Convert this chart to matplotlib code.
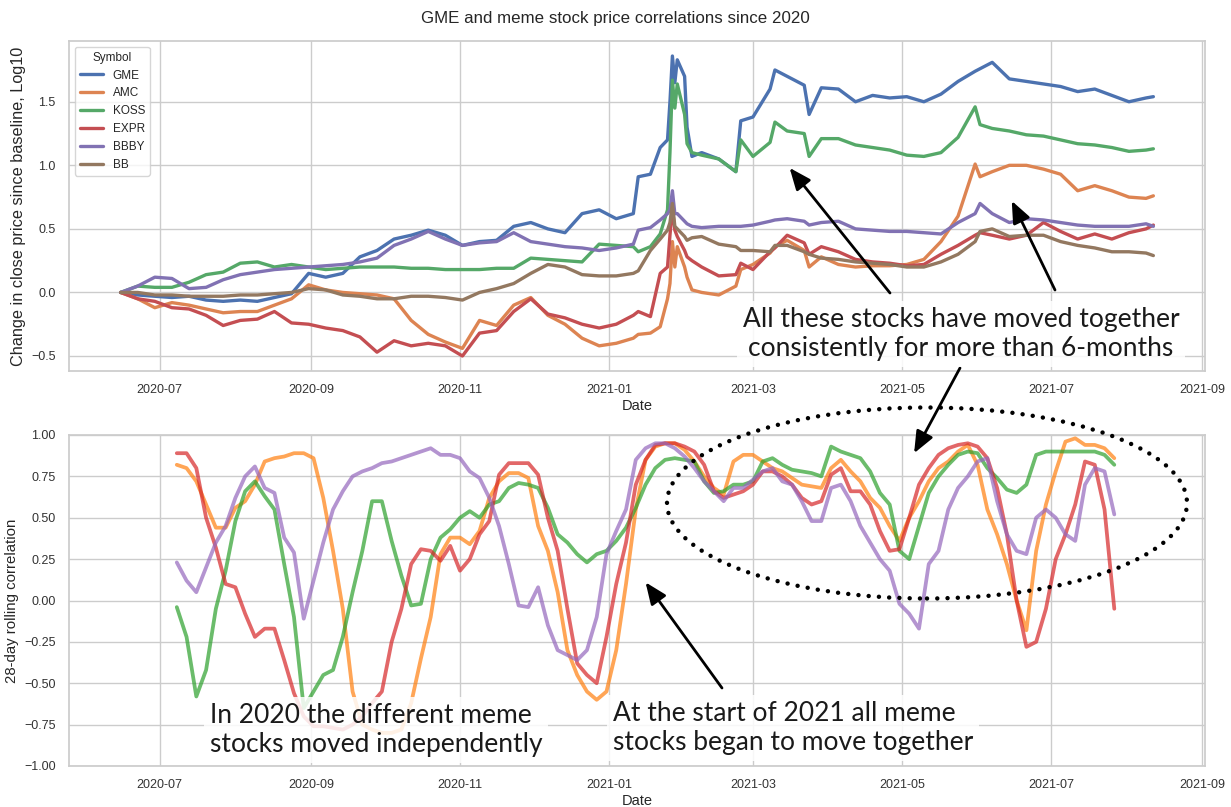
import numpy as np
import pandas as pd
import matplotlib
matplotlib.use("Agg")
import matplotlib.pyplot as plt
import matplotlib.dates as mdates
from matplotlib.ticker import MultipleLocator
from matplotlib.patches import Ellipse
import seaborn as sns

# ---- close price change since 2020-06-15 baseline (log10) ----
# weekly samples plus the days around the January squeeze
weekly = pd.date_range("2020-06-15", "2021-08-09", freq="7D")
extra_days = pd.to_datetime([
    "2021-01-13", "2021-01-22", "2021-01-26", "2021-01-27", "2021-01-28",
    "2021-01-29", "2021-02-02", "2021-02-04", "2021-02-24", "2021-03-10",
    "2021-03-24", "2021-06-02", "2021-08-12",
])
price_dates = weekly.union(extra_days)

symbols = ["GME", "AMC", "KOSS", "EXPR", "BBBY", "BB"]

gme = [0.00, -0.02, -0.03, -0.04, -0.03, -0.06, -0.07, -0.06, -0.07, -0.04,
       -0.01, 0.15, 0.12, 0.15, 0.28, 0.33, 0.42, 0.45, 0.49, 0.45,
       0.37, 0.40, 0.41, 0.52, 0.55, 0.50, 0.47, 0.62, 0.65, 0.58,
       0.62, 0.91, 0.93, 1.14, 1.20, 1.50, 1.86, 1.65, 1.83, 1.70,
       1.30, 1.07, 1.10, 1.05, 0.95, 1.35, 1.38, 1.60, 1.75, 1.70,
       1.63, 1.40, 1.61, 1.60, 1.50, 1.55, 1.53, 1.54, 1.50, 1.56,
       1.66, 1.74, 1.76, 1.81, 1.68, 1.66, 1.64, 1.62, 1.58, 1.60,
       1.55, 1.50, 1.53, 1.54]
amc = [0.00, -0.05, -0.12, -0.08, -0.10, -0.13, -0.16, -0.15, -0.15, -0.10,
       -0.05, 0.06, 0.02, 0.00, -0.01, -0.02, -0.05, -0.22, -0.33, -0.39,
       -0.44, -0.22, -0.26, -0.10, -0.04, -0.18, -0.25, -0.36, -0.42, -0.40,
       -0.36, -0.33, -0.32, -0.27, -0.05, 0.07, 0.40, 0.20, 0.36, 0.20,
       0.12, 0.02, 0.00, -0.02, 0.05, 0.18, 0.22, 0.31, 0.36, 0.41,
       0.33, 0.20, 0.28, 0.22, 0.20, 0.21, 0.21, 0.22, 0.26, 0.40,
       0.60, 1.01, 0.91, 0.95, 1.00, 1.00, 0.97, 0.93, 0.80, 0.84,
       0.80, 0.75, 0.74, 0.76]
koss = [0.00, 0.05, 0.04, 0.04, 0.08, 0.14, 0.16, 0.23, 0.24, 0.20,
        0.22, 0.20, 0.18, 0.19, 0.20, 0.20, 0.20, 0.19, 0.19, 0.18,
        0.18, 0.18, 0.19, 0.19, 0.27, 0.26, 0.25, 0.24, 0.38, 0.37,
        0.36, 0.32, 0.36, 0.46, 0.65, 1.10, 1.67, 1.45, 1.64, 1.40,
        1.17, 1.10, 1.08, 1.05, 0.95, 1.20, 1.07, 1.18, 1.34, 1.27,
        1.25, 1.07, 1.21, 1.21, 1.16, 1.14, 1.12, 1.08, 1.07, 1.10,
        1.22, 1.46, 1.32, 1.29, 1.27, 1.24, 1.23, 1.20, 1.17, 1.16,
        1.14, 1.11, 1.12, 1.13]
expr = [0.00, -0.05, -0.07, -0.12, -0.13, -0.18, -0.26, -0.22, -0.21, -0.15,
        -0.24, -0.25, -0.28, -0.30, -0.35, -0.47, -0.38, -0.42, -0.40, -0.42,
        -0.50, -0.32, -0.30, -0.15, -0.05, -0.17, -0.20, -0.25, -0.28, -0.25,
        -0.18, -0.15, -0.19, 0.15, 0.20, 0.45, 0.67, 0.49, 0.44, 0.33,
        0.28, 0.25, 0.20, 0.13, 0.14, 0.23, 0.18, 0.32, 0.35, 0.45,
        0.39, 0.30, 0.36, 0.32, 0.26, 0.24, 0.23, 0.21, 0.22, 0.30,
        0.37, 0.45, 0.47, 0.45, 0.42, 0.45, 0.55, 0.48, 0.42, 0.46,
        0.42, 0.47, 0.50, 0.53]
bbby = [0.00, 0.05, 0.12, 0.11, 0.03, 0.04, 0.10, 0.14, 0.16, 0.18,
        0.19, 0.20, 0.21, 0.22, 0.24, 0.27, 0.37, 0.42, 0.48, 0.42,
        0.37, 0.39, 0.40, 0.47, 0.40, 0.38, 0.36, 0.35, 0.33, 0.35,
        0.38, 0.49, 0.51, 0.57, 0.62, 0.65, 0.80, 0.62, 0.62, 0.56,
        0.54, 0.52, 0.51, 0.52, 0.52, 0.52, 0.53, 0.56, 0.57, 0.58,
        0.56, 0.53, 0.55, 0.56, 0.50, 0.49, 0.48, 0.48, 0.47, 0.46,
        0.55, 0.62, 0.70, 0.62, 0.55, 0.58, 0.57, 0.55, 0.53, 0.52,
        0.52, 0.52, 0.54, 0.52]
bb = [0.00, 0.00, -0.02, -0.02, -0.03, -0.03, -0.03, -0.02, -0.02, -0.01,
      0.00, 0.03, 0.02, -0.02, -0.03, -0.05, -0.05, -0.03, -0.03, -0.04,
      -0.06, 0.00, 0.03, 0.07, 0.15, 0.22, 0.20, 0.14, 0.13, 0.13,
      0.15, 0.17, 0.33, 0.42, 0.49, 0.55, 0.70, 0.52, 0.50, 0.44,
      0.41, 0.43, 0.44, 0.38, 0.36, 0.33, 0.33, 0.32, 0.37, 0.37,
      0.32, 0.30, 0.27, 0.26, 0.24, 0.23, 0.22, 0.20, 0.20, 0.24,
      0.30, 0.40, 0.48, 0.50, 0.44, 0.45, 0.45, 0.40, 0.37, 0.35,
      0.32, 0.32, 0.31, 0.29]

# ---- 28-day rolling correlation of each stock with GME ----
corr_dates = pd.date_range("2020-07-08", "2021-07-27", freq="4D")

amc_corr = [0.82, 0.80, 0.72, 0.58, 0.44, 0.44, 0.56, 0.60, 0.70, 0.84,
            0.86, 0.87, 0.89, 0.89, 0.86, 0.62, 0.30, -0.05, -0.55, -0.75,
            -0.78, -0.80, -0.80, -0.78, -0.62, -0.35, -0.10, 0.28, 0.38, 0.38,
            0.34, 0.42, 0.62, 0.72, 0.77, 0.77, 0.74, 0.45, 0.30, 0.05,
            -0.30, -0.45, -0.55, -0.60, -0.55, -0.30, 0.10, 0.55, 0.85, 0.93,
            0.95, 0.95, 0.91, 0.84, 0.75, 0.68, 0.64, 0.84, 0.88, 0.88,
            0.84, 0.80, 0.78, 0.74, 0.70, 0.69, 0.68, 0.80, 0.85, 0.78,
            0.72, 0.62, 0.56, 0.45, 0.36, 0.50, 0.60, 0.72, 0.80, 0.84,
            0.90, 0.94, 0.82, 0.55, 0.40, 0.22, 0.00, -0.18, 0.30, 0.58,
            0.78, 0.96, 0.98, 0.94, 0.94, 0.92, 0.86]
koss_corr = [-0.04, -0.22, -0.58, -0.42, -0.05, 0.18, 0.48, 0.66, 0.72, 0.63,
             0.55, 0.22, -0.10, -0.65, -0.55, -0.45, -0.42, -0.22, 0.05, 0.30,
             0.60, 0.60, 0.36, 0.15, -0.03, -0.02, 0.25, 0.38, 0.43, 0.50,
             0.54, 0.50, 0.58, 0.60, 0.68, 0.71, 0.70, 0.68, 0.56, 0.40,
             0.35, 0.28, 0.23, 0.28, 0.30, 0.36, 0.44, 0.56, 0.70, 0.80,
             0.85, 0.86, 0.85, 0.84, 0.72, 0.65, 0.66, 0.70, 0.70, 0.72,
             0.84, 0.86, 0.82, 0.79, 0.78, 0.77, 0.75, 0.93, 0.90, 0.88,
             0.86, 0.78, 0.65, 0.58, 0.30, 0.25, 0.45, 0.65, 0.75, 0.82,
             0.88, 0.90, 0.89, 0.80, 0.74, 0.67, 0.65, 0.70, 0.88, 0.90,
             0.90, 0.90, 0.90, 0.90, 0.90, 0.88, 0.82]
expr_corr = [0.89, 0.89, 0.80, 0.50, 0.32, 0.10, 0.08, -0.08, -0.22, -0.17,
             -0.17, -0.36, -0.56, -0.70, -0.76, -0.76, -0.77, -0.78, -0.75, -0.70,
             -0.62, -0.55, -0.25, -0.05, 0.22, 0.31, 0.30, 0.24, 0.33, 0.18,
             0.25, 0.40, 0.48, 0.76, 0.83, 0.83, 0.83, 0.76, 0.50, 0.30,
             -0.05, -0.38, -0.45, -0.50, -0.22, 0.10, 0.35, 0.70, 0.85, 0.94,
             0.95, 0.95, 0.93, 0.90, 0.82, 0.66, 0.62, 0.64, 0.66, 0.70,
             0.78, 0.78, 0.75, 0.70, 0.62, 0.58, 0.60, 0.76, 0.80, 0.66,
             0.66, 0.58, 0.42, 0.30, 0.31, 0.50, 0.70, 0.80, 0.88, 0.92,
             0.94, 0.95, 0.93, 0.86, 0.68, 0.40, 0.00, -0.28, -0.25, -0.05,
             0.25, 0.40, 0.58, 0.84, 0.82, 0.55, -0.05]
bbby_corr = [0.23, 0.12, 0.05, 0.20, 0.35, 0.45, 0.62, 0.75, 0.81, 0.68,
             0.65, 0.38, 0.29, -0.11, 0.12, 0.35, 0.55, 0.66, 0.75, 0.78,
             0.80, 0.83, 0.84, 0.86, 0.88, 0.90, 0.92, 0.88, 0.88, 0.86,
             0.78, 0.74, 0.62, 0.45, 0.22, -0.03, -0.04, 0.08, -0.15, -0.30,
             -0.33, -0.36, -0.30, -0.10, 0.28, 0.42, 0.55, 0.85, 0.92, 0.95,
             0.95, 0.92, 0.87, 0.80, 0.72, 0.66, 0.60, 0.68, 0.68, 0.73,
             0.78, 0.80, 0.72, 0.70, 0.60, 0.48, 0.48, 0.68, 0.70, 0.60,
             0.45, 0.35, 0.25, 0.18, -0.02, -0.08, -0.17, 0.22, 0.30, 0.55,
             0.68, 0.75, 0.84, 0.86, 0.60, 0.40, 0.30, 0.28, 0.50, 0.55,
             0.50, 0.40, 0.36, 0.70, 0.80, 0.78, 0.52]

sns.set_theme(style="whitegrid")
plt.rcParams["font.family"] = ["Liberation Sans", "DejaVu Sans"]
note_font = ["Lato", "DejaVu Sans"]

W, H = 1231, 807
fig = plt.figure(figsize=(W / 100, H / 100), dpi=100)
ax1 = fig.add_axes([69 / W, 1 - 371 / H, 1136 / W, 330 / H])
ax2 = fig.add_axes([69 / W, 1 - 766 / H, 1136 / W, 331 / H])

# top: price change per symbol
deep = sns.color_palette("deep")
for name, vals, c in zip(symbols, [gme, amc, koss, expr, bbby, bb], deep):
    ax1.plot(price_dates, vals, color=c, lw=2.4, label=name)
ax1.legend(title="Symbol", loc="upper left", fontsize=8.5, title_fontsize=8.5)
ax1.set_ylabel("Change in close price since baseline, Log10", fontsize=11.7)
ax1.set_xlabel("Date", fontsize=10.5, labelpad=2)

# bottom: rolling correlations
for vals, c in zip([amc_corr, koss_corr, expr_corr, bbby_corr],
                   ["tab:orange", "tab:green", "tab:red", "tab:purple"]):
    ax2.plot(corr_dates, vals, color=c, lw=2.7, alpha=0.7)
ax2.set_ylim(-1, 1)
ax2.yaxis.set_major_locator(MultipleLocator(0.25))
ax2.set_ylabel("28-day rolling correlation", fontsize=10.8)
ax2.set_xlabel("Date", fontsize=10.5, labelpad=2)
ax2.set_xlim(ax1.get_xlim())

for ax in (ax1, ax2):
    ax.xaxis.set_major_locator(mdates.MonthLocator(bymonth=[1, 3, 5, 7, 9, 11]))
    ax.xaxis.set_major_formatter(mdates.DateFormatter("%Y-%m"))
    ax.tick_params(labelsize=9, colors="#333333")

fig.suptitle("GME and meme stock price correlations since 2020",
             y=1 - 18 / H, va="center", fontsize=12.2)

# call-out notes
box = dict(facecolor="white", edgecolor="none", alpha=0.85, pad=4)
note_style = dict(fontsize=19, family=note_font, color="#1a1a1a",
                  linespacing=1.2, bbox=box)
fig.text(961 / W, 1 - 334 / H,
         "All these stocks have moved together\nconsistently for more than 6-months",
         ha="center", va="center", **note_style)
fig.text(210 / W, 1 - 730 / H,
         "In 2020 the different meme\nstocks moved independently",
         ha="left", va="center", **note_style)
fig.text(613 / W, 1 - 728 / H,
         "At the start of 2021 all meme\nstocks began to move together",
         ha="left", va="center", **note_style)

arrow = dict(arrowstyle="-|>,head_length=0.6,head_width=0.25", color="black",
             lw=2, mutation_scale=22, shrinkA=0, shrinkB=0)
d = mdates.date2num
ax1.annotate("", xy=(d(pd.Timestamp("2021-03-16")), 0.98),
             xytext=(890 / W, 1 - 293 / H), textcoords="figure fraction",
             arrowprops=arrow)
ax1.annotate("", xy=(d(pd.Timestamp("2021-06-15")), 0.72),
             xytext=(1055 / W, 1 - 290 / H), textcoords="figure fraction",
             arrowprops=arrow)
ax2.annotate("", xy=(d(pd.Timestamp("2021-05-06")), 0.89),
             xytext=(960 / W, 1 - 368 / H), textcoords="figure fraction",
             arrowprops=arrow)
ax2.annotate("", xy=(d(pd.Timestamp("2021-01-16")), 0.11),
             xytext=(722 / W, 1 - 688 / H), textcoords="figure fraction",
             arrowprops=arrow)

# dotted ring around the 2021 correlation block
ring = Ellipse((927 / W, 1 - 503 / H), 520 / W, 191 / H, transform=fig.transFigure,
               fill=False, edgecolor="black", lw=3.2, ls=(0, (0.01, 2.3)),
               capstyle="round")
fig.add_artist(ring)

fig.savefig("out.png", dpi=100)
